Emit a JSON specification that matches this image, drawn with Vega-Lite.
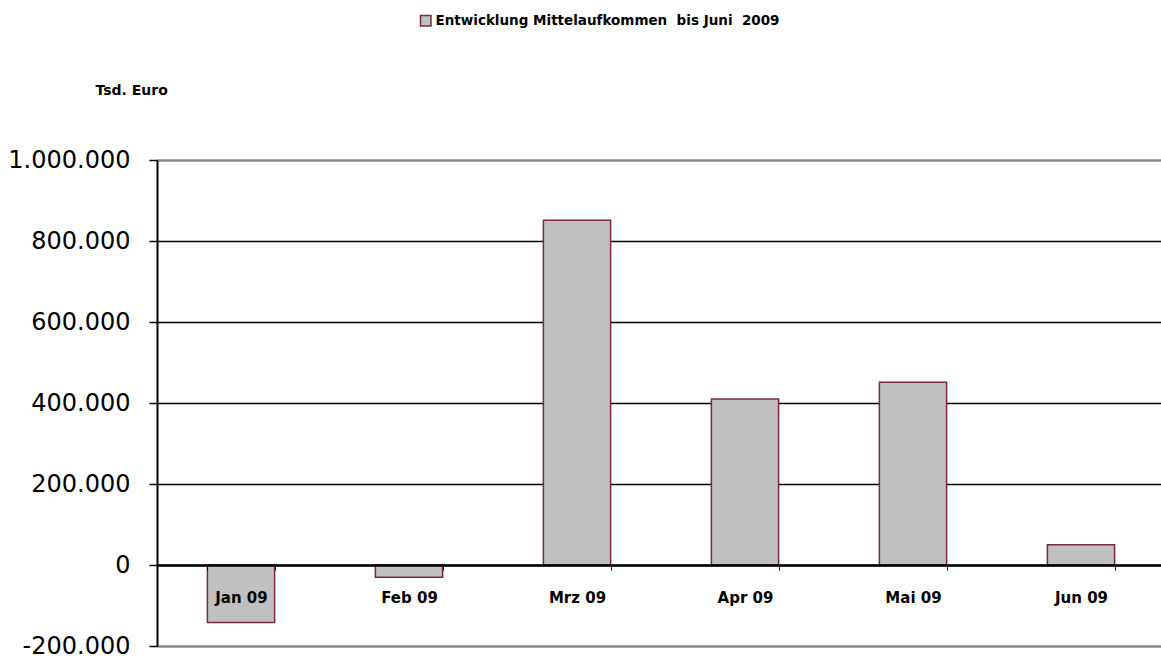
{
  "$schema": "https://vega.github.io/schema/vega-lite/v6.json",
  "autosize": {"type": "none"},
  "padding": {"left": 157, "top": 160, "right": 0, "bottom": 13},
  "width": 1008,
  "height": 486,
  "background": "white",
  "config": {
    "view": {"stroke": null},
    "font": "DejaVu Sans"
  },
  "data": {
    "values": [
      {"monat": "Jan 09", "wert": -142000, "serie": "Entwicklung Mittelaufkommen\u00a0 bis Juni\u00a0 2009"},
      {"monat": "Feb 09", "wert": -30000, "serie": "Entwicklung Mittelaufkommen\u00a0 bis Juni\u00a0 2009"},
      {"monat": "Mrz 09", "wert": 851000, "serie": "Entwicklung Mittelaufkommen\u00a0 bis Juni\u00a0 2009"},
      {"monat": "Apr 09", "wert": 410000, "serie": "Entwicklung Mittelaufkommen\u00a0 bis Juni\u00a0 2009"},
      {"monat": "Mai 09", "wert": 451000, "serie": "Entwicklung Mittelaufkommen\u00a0 bis Juni\u00a0 2009"},
      {"monat": "Jun 09", "wert": 50000, "serie": "Entwicklung Mittelaufkommen\u00a0 bis Juni\u00a0 2009"}
    ]
  },
  "mark": {"type": "bar", "stroke": "#7a2a3c", "strokeWidth": 1.5},
  "encoding": {
    "x": {
      "field": "monat",
      "type": "nominal",
      "sort": null,
      "scale": {"paddingInner": 0.6, "paddingOuter": 0.3},
      "axis": {
        "title": null,
        "offset": -81,
        "zindex": 1,
        "labelAngle": 0,
        "labelFont": "DejaVu Sans",
        "labelFontWeight": "bold",
        "labelFontSize": 15,
        "labelColor": "black",
        "labelPadding": 20,
        "domainColor": "black",
        "domainWidth": 2.5,
        "tickColor": "black",
        "tickSize": 5,
        "tickWidth": 1,
        "tickBand": "extent",
        "grid": false
      }
    },
    "y": {
      "field": "wert",
      "type": "quantitative",
      "scale": {"domain": [-200000, 1000000], "nice": false, "zero": false},
      "axis": {
        "values": [-200000, 0, 200000, 400000, 600000, 800000, 1000000],
        "labelExpr": "replace(replace(replace(format(datum.value, ',d'), ',', '.'), ',', '.'), '\u2212', '-')",
        "title": "Tsd. Euro",
        "titleAngle": 0,
        "titleAlign": "left",
        "titleBaseline": "alphabetic",
        "titleX": -62,
        "titleY": -66,
        "titleFont": "DejaVu Sans",
        "titleFontSize": 14,
        "titleFontWeight": "bold",
        "titleColor": "black",
        "labelFont": "DejaVu Sans",
        "labelFontSize": 24,
        "labelColor": "black",
        "labelPadding": 19,
        "domainColor": "black",
        "domainWidth": 2,
        "tickColor": "black",
        "tickSize": 8,
        "tickWidth": 1.5,
        "grid": true,
        "gridColor": {"condition": {"test": "datum.value == 1000000 || datum.value == -200000", "value": "#888888"}, "value": "black"},
        "gridWidth": {"condition": {"test": "datum.value == 1000000 || datum.value == -200000", "value": 2.5}, "value": 1.6},
        "gridOpacity": 1
      }
    },
    "color": {
      "field": "serie",
      "type": "nominal",
      "scale": {"range": ["#c0c0c0"]},
      "legend": {
        "title": null,
        "orient": "none",
        "legendX": 262,
        "legendY": -146,
        "symbolType": "square",
        "symbolSize": 110,
        "symbolStrokeColor": "#7a2a3c",
        "symbolStrokeWidth": 1.5,
        "symbolOpacity": 1,
        "labelFont": "DejaVu Sans",
        "labelFontWeight": "bold",
        "labelFontSize": 13.5,
        "labelColor": "black",
        "labelOffset": 3,
        "labelLimit": 600
      }
    }
  }
}
